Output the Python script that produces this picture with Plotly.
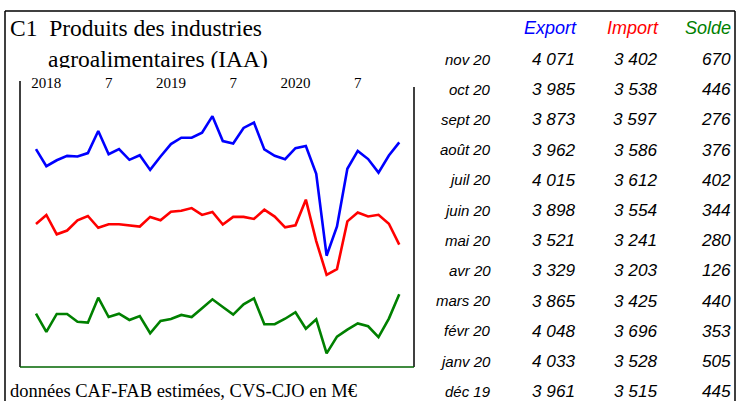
import plotly.graph_objects as go

# monthly series, dec 2017 -> nov 2020 (M€)
export = [4027, 3915, 3954, 3983, 3979, 4001, 4146, 3994, 4027, 3957, 3987, 3891,
          3979, 4060, 4102, 4102, 4135, 4243, 4080, 4064, 4166, 4201, 4025, 3983,
          3961, 4033, 4048, 3865, 3329, 3521, 3898, 4015, 3962, 3873, 3985, 4071]
imports = [3537, 3596, 3469, 3494, 3561, 3589, 3512, 3535, 3535, 3529, 3520, 3583,
           3561, 3617, 3623, 3641, 3596, 3615, 3533, 3583, 3583, 3570, 3630, 3585,
           3515, 3528, 3696, 3425, 3203, 3241, 3554, 3612, 3586, 3597, 3538, 3402]
solde = [492, 323, 489, 489, 418, 409, 639, 461, 492, 434, 470, 311,
         424, 443, 480, 461, 541, 624, 553, 483, 578, 633, 394, 394,
         445, 505, 353, 440, 126, 280, 344, 402, 376, 276, 446, 670]

tick_pos = [1, 7, 13, 19, 25, 31]
tick_text = ["2018", "7", "2019", "7", "2020", "7"]

# last 12 months, newest first, for the table
table_months = ["nov 20", "oct 20", "sept 20", "août 20", "juil 20", "juin 20",
                "mai 20", "avr 20", "mars 20", "févr 20", "janv 20", "déc 19"]

W, H = 741, 401
x = list(range(len(export)))

fig = go.Figure()
fig.add_trace(go.Scatter(x=x, y=export, mode="lines", line=dict(color="#0000ff", width=2.6)))
fig.add_trace(go.Scatter(x=x, y=imports, mode="lines", line=dict(color="#ff0000", width=2.6)))
fig.add_trace(go.Scatter(x=x, y=solde, mode="lines", line=dict(color="#008000", width=2.6), yaxis="y2"))

def px(v):
    return v / W

def py(v):
    return 1 - v / H

serif = "Liberation Serif, Times New Roman, serif"
sans = "Liberation Sans, Arial, sans-serif"

fig.update_layout(
    width=W, height=H,
    margin=dict(l=0, r=0, t=0, b=0),
    paper_bgcolor="white", plot_bgcolor="white",
    showlegend=False,
    xaxis=dict(domain=[px(20), px(414)], range=[-1.54, 36.42], side="top",
               tickvals=tick_pos, ticktext=tick_text, ticks="", showgrid=False,
               zeroline=False, showline=False, ticklabelstandoff=-5,
               tickfont=dict(family=serif, size=15, color="black")),
    yaxis=dict(domain=[py(367), py(87)], range=[2600, 4434], showticklabels=False,
               showgrid=False, zeroline=False, showline=False, ticks=""),
    yaxis2=dict(overlaying="y", side="right", range=[0, 2582], showticklabels=False,
                showgrid=False, zeroline=False, showline=False, ticks=""),
)

black = dict(color="black", width=1.5)
shapes = [
    # outer frame
    dict(type="line", xref="paper", yref="paper", x0=px(5), x1=px(735), y0=py(11), y1=py(11), line=black),
    dict(type="line", xref="paper", yref="paper", x0=px(5), x1=px(5), y0=py(11), y1=0, line=black),
    dict(type="line", xref="paper", yref="paper", x0=px(735), x1=px(735), y0=py(11), y1=0, line=black),
    # chart frame
    dict(type="line", xref="paper", yref="paper", x0=px(20), x1=px(20), y0=py(81), y1=py(367), line=black),
    dict(type="line", xref="paper", yref="paper", x0=px(414), x1=px(414), y0=py(87), y1=py(367), line=black),
    dict(type="line", xref="paper", yref="paper", x0=px(20), x1=px(414), y0=py(367), y1=py(367),
         line=dict(color="#006400", width=1.5)),
]
fig.update_layout(shapes=shapes)

ann = []
ann.append(dict(text="C1  Produits des industries", x=px(8), y=py(28), xanchor="left", yanchor="middle",
                font=dict(family=serif, size=23.5, color="black")))
ann.append(dict(text="agroalimentaires (IAA)", x=px(46), y=py(59), xanchor="left", yanchor="middle",
                font=dict(family=serif, size=23.5, color="black")))
# the second title line is cut just under its baseline in the original
ann.append(dict(text=" ", x=px(40), y=py(67.5), xanchor="left", yanchor="top", width=250, height=6,
                bgcolor="white", borderpad=0, borderwidth=0))
ann.append(dict(text="données CAF-FAB estimées, CVS-CJO en M€", x=px(8), y=py(391), xanchor="left",
                yanchor="middle", font=dict(family=serif, size=18.5, color="black")))

headers = [("Export", "#0000ff", 579), ("Import", "#ff0000", 661), ("Solde", "#008000", 733)]
for name, col, xr in headers:
    ann.append(dict(text="<i>%s</i>" % name, x=px(xr), y=py(28), xanchor="right", yanchor="middle",
                    font=dict(family=sans, size=18, color=col)))

def fmt(v):
    return "{:,}".format(v).replace(",", " ")

n = len(export)
for i, m in enumerate(table_months):
    k = n - 1 - i
    yy = py(59 + i * 30.2)
    ann.append(dict(text="<i>%s</i>" % m, x=px(493), y=yy, xanchor="right", yanchor="middle",
                    font=dict(family=sans, size=15, color="black")))
    for val, xr in [(export[k], 577), (imports[k], 659), (solde[k], 733)]:
        ann.append(dict(text="<i>%s</i>" % fmt(val), x=px(xr), y=yy, xanchor="right", yanchor="middle",
                        font=dict(family=sans, size=17.2, color="black")))

for a in ann:
    a.update(xref="paper", yref="paper", showarrow=False)
fig.update_layout(annotations=ann)

fig.write_html("out.html", config={"displayModeBar": False},
               post_script="document.body.style.margin='0';")
